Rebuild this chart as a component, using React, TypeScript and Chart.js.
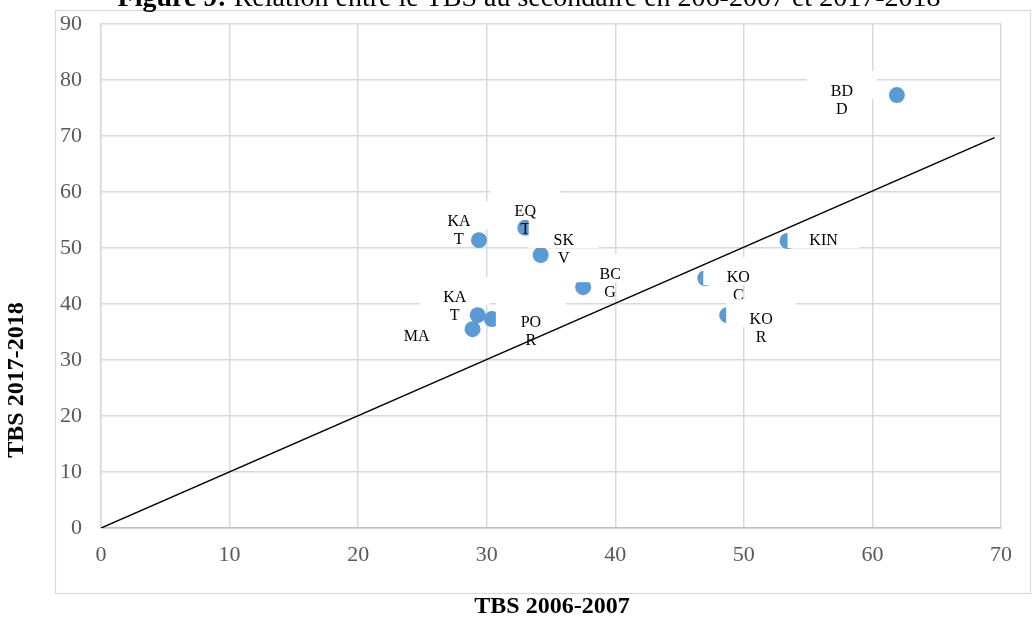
import React, { useEffect, useRef } from "react";
import { Chart, registerables } from "chart.js";

Chart.register(...registerables);

// ---- Data ----
const provinces = ["BDD", "KAT", "EQT", "SKV", "BCG", "KAT", "POR", "MA", "KIN", "KOC", "KOR"];
const labelLines = [["BD", "D"], ["KA", "T"], ["EQ", "T"], ["SK", "V"], ["BC", "G"], ["KA", "T"], ["PO", "R"], ["MA"], ["KIN"], ["KO", "C"], ["KO", "R"]];
const tbs2006 = [61.9, 29.4, 33.0, 34.2, 37.5, 29.3, 30.4, 28.9, 53.4, 47.0, 48.7];
const tbs2017 = [77.3, 51.4, 53.6, 48.75, 43.0, 38.0, 37.3, 35.5, 51.25, 44.6, 38.0];
const refLineX = [0, 69.5];
const refLineY = [0, 69.7];
const xTickValues = [0, 10, 20, 30, 40, 50, 60, 70];
const yTickValues = [0, 10, 20, 30, 40, 50, 60, 70, 80, 90];

// ---- Label layout (pixel offsets of label text from its point) ----
const labelDx = [-55, -20, 0, 23, 27, -23, 39, -56, 36, 33, 34];
const labelDy = [-3, -18, -16, -14, -12, -17, 4, 8, 0, 0, 5];

const SERIF = '"Liberation Serif", "Times New Roman", serif';
const titleBold = "Figure 9:";
const titleRest = " Relation entre le TBS au secondaire en 206-2007 et 2017-2018";
const xTitle = "TBS 2006-2007";
const yTitle = "TBS 2017-2018";

const labelPlugin = {
  id: "pointLabels",
  afterDatasetDraw(chart: any, args: any) {
    if (args.index !== 0) return;
    const ctx = chart.ctx;
    const meta = chart.getDatasetMeta(0);
    ctx.save();
    ctx.font = `16px ${SERIF}`;
    ctx.textAlign = "center";
    ctx.textBaseline = "middle";
    meta.data.forEach((pt: any, i: number) => {
      const cx = pt.x + labelDx[i];
      const ly = pt.y + labelDy[i];
      const lines = labelLines[i];
      const w = lines.length > 1 ? 70 : 72;
      const top = lines.length > 1 ? ly - 21 : ly - 11;
      const bottom = ly + 7;
      ctx.fillStyle = "#ffffff";
      ctx.fillRect(cx - w / 2, top, w, bottom - top);
      ctx.fillStyle = "#000000";
      lines.forEach((ln, k) => {
        ctx.fillText(ln, cx, ly + k * 17.5);
      });
    });
    ctx.restore();
  },
};

const decorPlugin = {
  id: "decor",
  beforeDraw(chart: any) {
    const ctx = chart.ctx;
    ctx.save();
    ctx.fillStyle = "#ffffff";
    ctx.fillRect(0, 0, chart.width, chart.height);
    ctx.strokeStyle = "#d9d9d9";
    ctx.lineWidth = 1.2;
    ctx.strokeRect(55.5, 10.5, 975, 583);
    ctx.restore();
  },
  afterDraw(chart: any) {
    const ctx = chart.ctx;
    ctx.save();
    // figure title (clipped at top)
    ctx.fillStyle = "#000000";
    ctx.textBaseline = "alphabetic";
    ctx.font = `bold 28px ${SERIF}`;
    const wb = ctx.measureText(titleBold).width;
    ctx.font = `28px ${SERIF}`;
    const wr = ctx.measureText(titleRest).width;
    const x0 = 529 - (wb + wr) / 2;
    ctx.textAlign = "left";
    ctx.font = `bold 28px ${SERIF}`;
    ctx.fillText(titleBold, x0, 6);
    ctx.font = `28px ${SERIF}`;
    ctx.fillText(titleRest, x0 + wb, 6);
    // axis titles
    ctx.font = `bold 24px ${SERIF}`;
    ctx.textAlign = "center";
    ctx.textBaseline = "middle";
    ctx.fillText(xTitle, 552, 607);
    ctx.translate(17, 380);
    ctx.rotate(-Math.PI / 2);
    ctx.fillText(yTitle, 0, 0);
    ctx.restore();
  },
};

export default function App() {
  const ref = useRef<HTMLCanvasElement | null>(null);
  useEffect(() => {
    if (!ref.current) return;
    const chart = new Chart(ref.current, {
      type: "scatter",
      data: {
        datasets: [
          {
            label: "TBS",
            data: tbs2006.map((x, i) => ({ x, y: tbs2017[i] })),
            backgroundColor: "#5b9bd5",
            borderColor: "#5b9bd5",
            pointRadius: 8,
            pointBorderWidth: 0,
            order: 2,
          },
          {
            type: "line",
            label: "ref",
            data: refLineX.map((x, i) => ({ x, y: refLineY[i] })),
            borderColor: "#000000",
            borderWidth: 1.5,
            pointRadius: 0,
            showLine: true,
            fill: false,
            order: 1,
          } as any,
        ],
      },
      options: {
        animation: false,
        responsive: false,
        devicePixelRatio: 1,
        layout: { padding: { left: 0, top: 24, right: 32, bottom: 0 } },
        plugins: { legend: { display: false }, tooltip: { enabled: false }, title: { display: false } },
        scales: {
          x: {
            type: "linear",
            min: 0,
            max: 70,
            afterFit: (s: any) => {
              s.height = 90;
              s.paddingLeft = 0;
              s.paddingRight = 0;
            },
            afterBuildTicks: (s: any) => { s.ticks = xTickValues.map((v) => ({ value: v })); },
            grid: { color: "#d9d9d9", lineWidth: 1.5, drawTicks: false },
            border: { color: "#bfbfbf", width: 1.5 },
            ticks: { padding: 14, color: "#595959", font: { family: SERIF, size: 22 }, maxRotation: 0 },
          },
          y: {
            type: "linear",
            min: 0,
            max: 90,
            afterFit: (s: any) => {
              s.width = 101;
              s.paddingTop = 0;
              s.paddingBottom = 0;
            },
            afterBuildTicks: (s: any) => { s.ticks = yTickValues.map((v) => ({ value: v })); },
            grid: { color: "#d9d9d9", lineWidth: 1.5, drawTicks: false },
            border: { color: "#d9d9d9", width: 1.5 },
            ticks: { padding: 19, color: "#595959", font: { family: SERIF, size: 22 } },
          },
        },
      },
      plugins: [decorPlugin, labelPlugin],
    });
    return () => chart.destroy();
  }, []);
  return (
    <div style={{ position: "fixed", left: 0, top: 0, width: 1033, height: 618, background: "#fff" }}>
      <canvas ref={ref} width={1033} height={618} aria-label={provinces.join(", ")} />
    </div>
  );
}
